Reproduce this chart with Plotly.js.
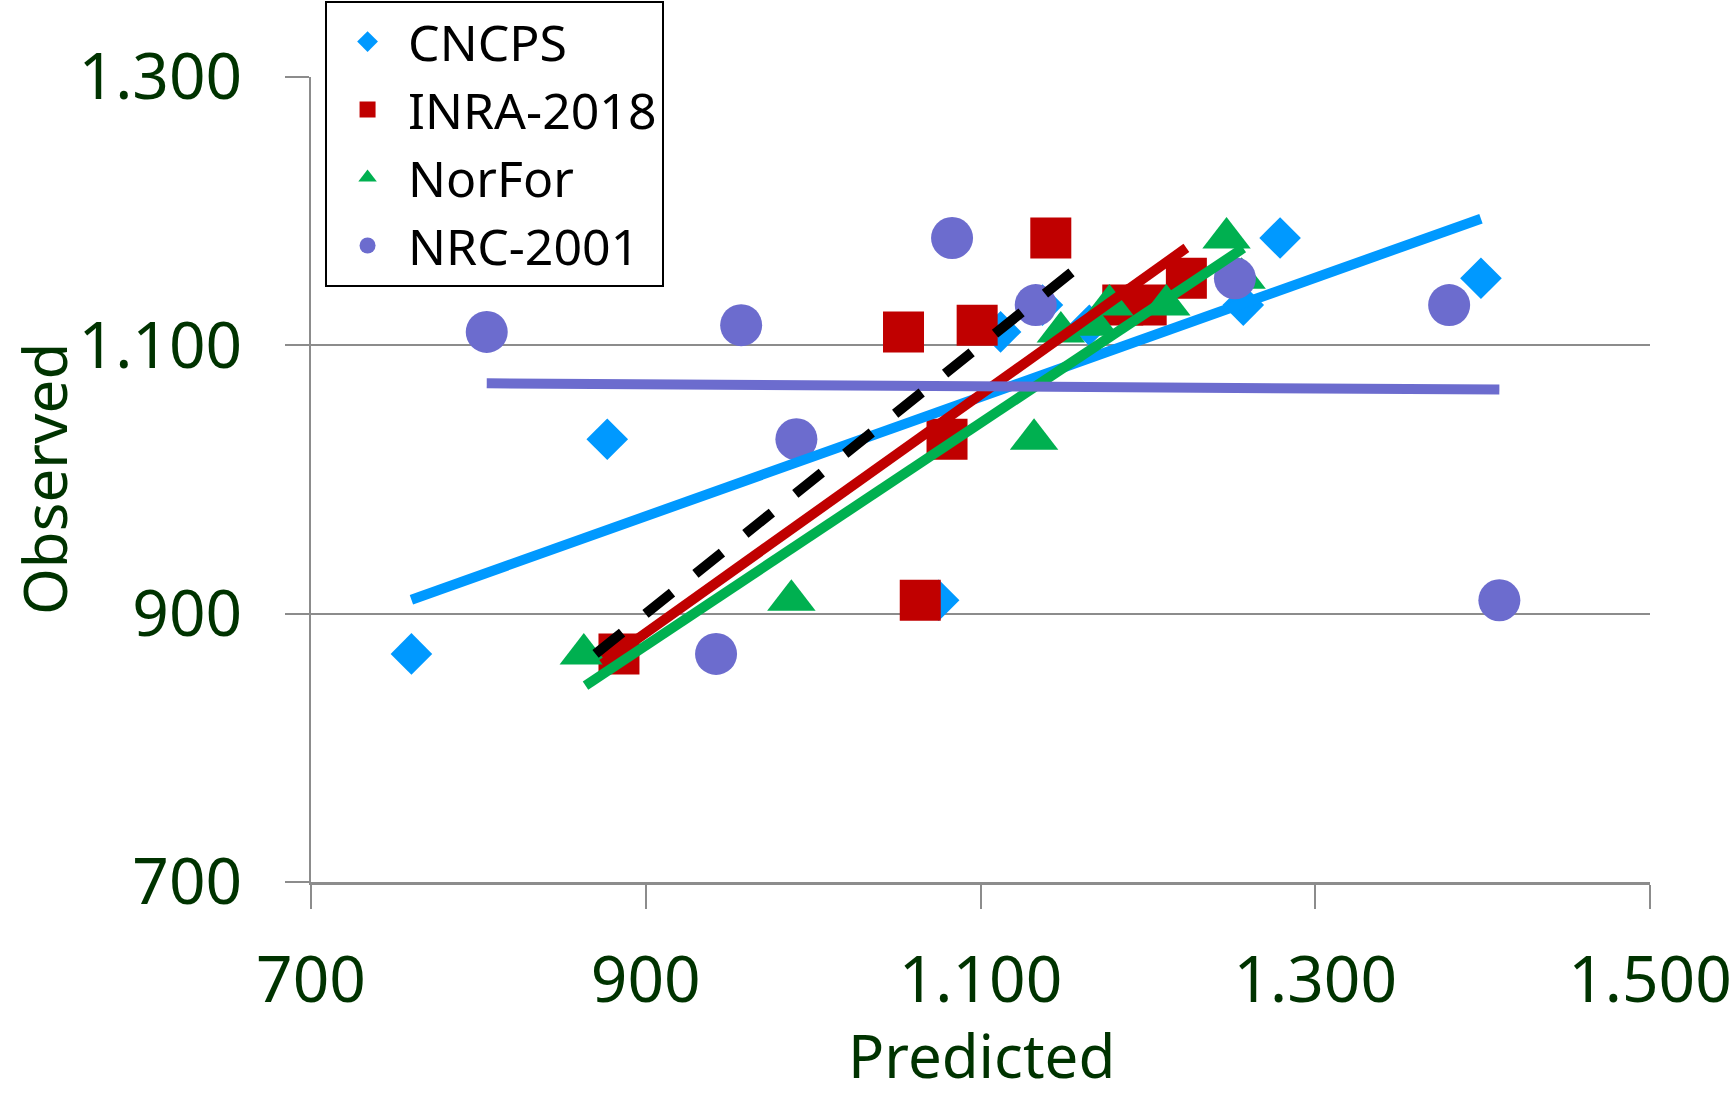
<!DOCTYPE html>
<html><head><meta charset="utf-8">
<script src="https://cdn.plot.ly/plotly-3.0.1.min.js"></script>
<style>html,body{margin:0;padding:0;background:#fff}#chart{width:1735px;height:1099px}</style>
</head><body><div id="chart"></div>
<script>
// ---- data (Predicted vs Observed) ----
const seriesNames = ['CNCPS', 'INRA-2018', 'NorFor', 'NRC-2001'];

const cncpsPred = [760, 877, 1075, 1112, 1137, 1165, 1257, 1279, 1399];
const cncpsObs  = [870, 1030, 910, 1110, 1130, 1115, 1130, 1180, 1150];

const inraPred = [884, 1054, 1098, 1142, 1080, 1064, 1223, 1185, 1199];
const inraObs  = [870, 1110, 1115, 1180, 1030, 910, 1150, 1130, 1130];

const norforPred = [863, 987, 1132, 1148, 1168, 1177, 1211, 1256, 1247];
const norforObs  = [870, 910, 1030, 1110, 1115, 1130, 1130, 1150, 1180];

const nrcPred = [805, 957, 990, 942, 1083, 1133, 1252, 1380, 1410];
const nrcObs  = [1110, 1115, 1030, 870, 1180, 1130, 1150, 1130, 910];

// regression lines (end points) and the 1:1 line
const cncpsFitX = [760, 1399];   const cncpsFitY = [910.4, 1194.4];
const inraFitX = [874, 1223];    const inraFitY = [862.5, 1172.6];
const norforFitX = [864, 1257];  const norforFitY = [846.3, 1172.4];
const nrcFitX = [805, 1410];     const nrcFitY = [1071.7, 1067];
const identityX = [870, 1165];   const identityY = [870, 1165];

// axis ticks and titles
const xTickVals = [700, 900, 1100, 1300, 1500];
const xTickText = ['700', '900', '1.100', '1.300', '1.500'];
const yTickVals = [700, 900, 1100, 1300];
const yTickText = ['700', '900', '1.100', '1.300'];
const xTitle = 'Predicted';
const yTitle = 'Observed';

// ---- styling ----
const colBlue = '#0099FF', colRed = '#C00000', colGreen = '#00B050', colPurple = '#6C6CCE';
const txtGreen = '#003300';
const fontFam = '"Comic Sans MS", "Noto Sans", sans-serif';

function markerTrace(name, x, y, symbol, color, size) {
  return {type: 'scatter', mode: 'markers', name: name, x: x, y: y,
    marker: {symbol: symbol, color: color, size: size, line: {width: 0}}};
}
function lineTrace(x, y, color, dash) {
  return {type: 'scatter', mode: 'lines', x: x, y: y, showlegend: false, hoverinfo: 'skip',
    line: {color: color, width: 10, dash: dash || 'solid'}};
}

const data = [
  markerTrace(seriesNames[0], cncpsPred, cncpsObs, 'diamond', colBlue, 32),
  markerTrace(seriesNames[1], inraPred, inraObs, 'square', colRed, 41),
  markerTrace(seriesNames[2], norforPred, norforObs, 'triangle-up', colGreen, 42),
  markerTrace(seriesNames[3], nrcPred, nrcObs, 'circle', colPurple, 42),
  lineTrace(cncpsFitX, cncpsFitY, colBlue),
  lineTrace(inraFitX, inraFitY, colRed),
  lineTrace(norforFitX, norforFitY, colGreen),
  lineTrace(nrcFitX, nrcFitY, colPurple),
  lineTrace(identityX, identityY, '#000000', '34px,30px')
];

const layout = {
  width: 1735, height: 1099,
  margin: {l: 311, r: 85, t: 77, b: 217, autoexpand: false},
  paper_bgcolor: '#ffffff', plot_bgcolor: '#ffffff',
  font: {family: fontFam, color: txtGreen},
  showlegend: true,
  legend: {
    x: 0.0105, y: 1.095, xanchor: 'left', yanchor: 'top',
    bgcolor: '#ffffff', bordercolor: '#000000', borderwidth: 2,
    font: {family: fontFam, size: 50, color: '#000000'},
    itemwidth: 71,
    itemsizing: 'trace'
  },
  xaxis: {
    range: [700, 1500], tickvals: xTickVals, ticktext: xTickText,
    showgrid: false, zeroline: false,
    showline: true, linecolor: '#8C8C8C', linewidth: 3,
    ticks: 'outside', ticklen: 24, tickwidth: 2, tickcolor: '#8C8C8C',
    ticklabelstandoff: 16,
    tickfont: {family: fontFam, size: 64, color: txtGreen}
  },
  yaxis: {
    range: [700, 1300], tickvals: yTickVals, ticktext: yTickText,
    showgrid: true, gridcolor: '#8C8C8C', gridwidth: 2, zeroline: false,
    showline: true, linecolor: '#8C8C8C', linewidth: 2,
    ticks: 'outside', ticklen: 24, tickwidth: 2, tickcolor: '#8C8C8C',
    ticklabelstandoff: 30,
    tickfont: {family: fontFam, size: 64, color: txtGreen}
  },
  annotations: [
    {text: xTitle, xref: 'paper', yref: 'paper', x: 0.5004, y: -0.2685,
     xanchor: 'center', yanchor: 'bottom', showarrow: false,
     font: {family: fontFam, size: 60, color: txtGreen}},
    {text: yTitle, xref: 'paper', yref: 'paper', x: -0.232, y: 0.501,
     xanchor: 'left', yanchor: 'middle', textangle: -90, showarrow: false,
     font: {family: fontFam, size: 60, color: txtGreen}}
  ]
};

Plotly.newPlot('chart', data, layout, {displayModeBar: false, staticPlot: true});
</script>
</body></html>
